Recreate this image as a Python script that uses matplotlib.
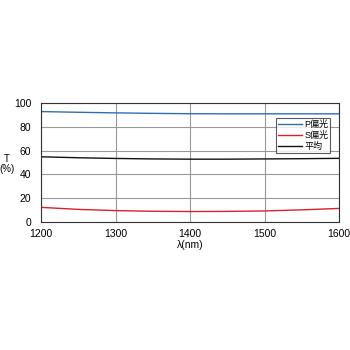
import numpy as np
import matplotlib
matplotlib.use("Agg")
import matplotlib.pyplot as plt

plt.rcParams['font.family'] = ['Liberation Sans', 'Noto Sans CJK JP', 'DejaVu Sans']

wavelength = [1200, 1250, 1300, 1350, 1400, 1450, 1500, 1550, 1600]
p_pol = [92.8, 92.2, 91.7, 91.3, 91.0, 90.9, 90.9, 90.9, 90.9]
s_pol = [12.3, 10.6, 9.6, 9.0, 8.8, 8.9, 9.3, 10.2, 11.4]
avg = [54.8, 54.0, 53.4, 53.0, 52.8, 52.8, 53.0, 53.2, 53.5]

fig = plt.figure(figsize=(3.5, 3.5), dpi=100)
ax = fig.add_axes([41 / 350, 1 - 222 / 350, 298 / 350, 119 / 350])

ax.plot(wavelength, p_pol, color="#2f6db3", lw=1.0, label="P偏光")
ax.plot(wavelength, s_pol, color="#d9202c", lw=1.0, label="S偏光")
ax.plot(wavelength, avg, color="#111111", lw=1.0, label="平均")

ax.set_xlim(1200, 1600)
ax.set_ylim(0, 100)
ax.set_xticks([1200, 1300, 1400, 1500, 1600])
ax.set_yticks([0, 20, 40, 60, 80, 100])
ax.grid(True, color="#999999", lw=0.8)
ax.tick_params(labelsize=7.5, length=0)
ax.tick_params(axis="x", pad=5)
ax.tick_params(axis="y", pad=7)
for s in ax.spines.values():
    s.set_color("#333333")
    s.set_linewidth(0.8)

ax.set_xlabel("λ(nm)", fontsize=7.5, labelpad=1)
fig.text(7 / 350, 1 - 164 / 350, "T\n(%)", fontsize=7, ha="center", va="center",
         linespacing=1.1)

leg = ax.legend(loc="upper right", bbox_to_anchor=(0.97, 0.87), fontsize=6.5,
                frameon=True, fancybox=False, handlelength=2.6, handletextpad=0.3,
                borderpad=0.2, labelspacing=0.2, borderaxespad=0)
leg.get_frame().set_edgecolor("#333333")
leg.get_frame().set_linewidth(0.8)

fig.savefig("out.png", dpi=100)
